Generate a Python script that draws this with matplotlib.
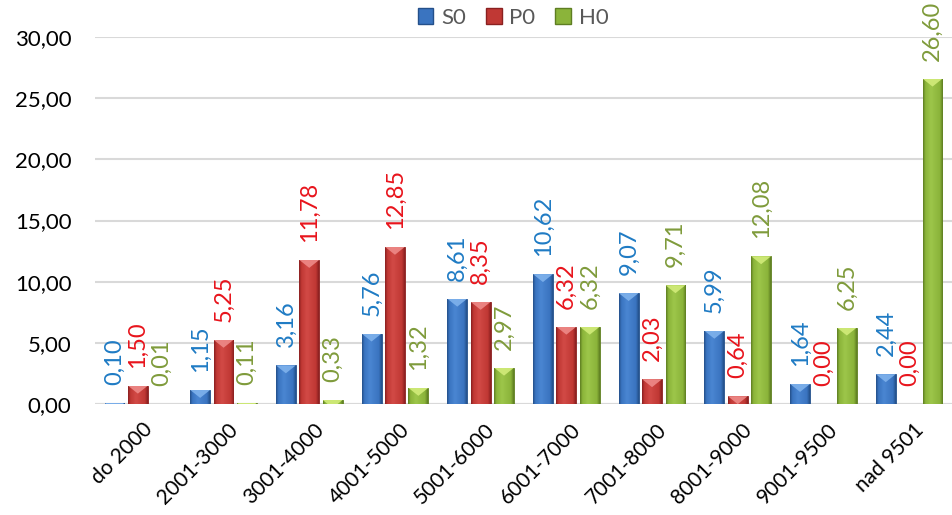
import numpy as np
import matplotlib.pyplot as plt
from matplotlib.colors import LinearSegmentedColormap
from matplotlib.patches import Polygon, Patch

plt.rcParams['font.family'] = ['Lato', 'DejaVu Sans']

categories = ['do 2000', '2001-3000', '3001-4000', '4001-5000', '5001-6000',
              '6001-7000', '7001-8000', '8001-9000', '9001-9500', 'nad 9501']
s0 = [0.10, 1.15, 3.16, 5.76, 8.61, 10.62, 9.07, 5.99, 1.64, 2.44]
p0 = [1.50, 5.25, 11.78, 12.85, 8.35, 6.32, 2.03, 0.64, 0.00, 0.00]
h0 = [0.01, 0.11, 0.33, 1.32, 2.97, 6.32, 9.71, 12.08, 6.25, 26.60]
yticks = [0, 5, 10, 15, 20, 25, 30]

series = [
    ('S0', s0, ['#24508a', '#3a74c0', '#4a86d2', '#3a74c0', '#24508a'], '#7fb2ec', '#1f7bc4'),
    ('P0', p0, ['#8a2020', '#c03834', '#d24a46', '#c03834', '#8a2020'], '#ee8a88', '#e8141c'),
    ('H0', h0, ['#5e7e22', '#8bb43a', '#9dc64a', '#8bb43a', '#5e7e22'], '#d2ec7a', '#7f9b3b'),
]

fig = plt.figure(figsize=(9.52, 5.15), dpi=100)
ax = fig.add_axes([0.0998, 0.2155, 0.9002, 0.7126])

x = np.arange(len(categories))
width = 0.232
step = 0.273
grad = np.linspace(0, 1, 64).reshape(1, -1)

for i, (name, vals, cols, tri_col, lab_col) in enumerate(series):
    cmap = LinearSegmentedColormap.from_list(name, list(zip([0, 0.12, 0.4, 0.85, 1], cols)))
    pos = x + (i - 1) * step
    bars = ax.bar(pos, vals, width, color=cols[1], edgecolor=cols[0], linewidth=0.6, zorder=3)
    for b, v in zip(bars, vals):
        x0, x1 = b.get_x(), b.get_x() + b.get_width()
        if v > 0.05:
            im = ax.imshow(grad, extent=[x0, x1, 0, v], aspect='auto', cmap=cmap, zorder=3.5)
            im.set_clip_path(b)
            tri = Polygon([(x0, v), (x1, v), ((x0 + x1) / 2, v - 0.65)], closed=True,
                          facecolor=tri_col, edgecolor='none', alpha=0.9, zorder=4)
            ax.add_patch(tri)
            tri.set_clip_path(b)
        else:
            b.set_linewidth(0)
        ax.annotate(f"{v:.2f}".replace('.', ','), (b.get_x() + b.get_width() / 2, v),
                    xytext=(0, 13), textcoords='offset points', rotation=90,
                    ha='center', va='bottom', fontsize=17, color=lab_col,
                    annotation_clip=False, zorder=5)

ax.set_xlim(-0.5, len(categories) - 0.5)
ax.set_ylim(0, 30)
ax.set_yticks(yticks)
ax.set_yticklabels([f"{t:.2f}".replace('.', ',') for t in yticks], fontsize=16)
ax.set_xticks(x + 0.05)
ax.set_xticklabels(categories, rotation=45, ha='right', rotation_mode='anchor', fontsize=15)
ax.tick_params(axis='y', length=0, pad=17)
ax.tick_params(axis='x', length=0, pad=11)
ax.grid(axis='y', color='#d9d9d9', linewidth=1.5, zorder=0)
for sp in ax.spines.values():
    sp.set_visible(False)
ax.axhline(0, color='#d9d9d9', linewidth=1.5, zorder=2)

handles = [Patch(facecolor=s[2][1], edgecolor=s[2][0], label=s[0]) for s in series]
leg = fig.legend(handles=handles, loc='center', bbox_to_anchor=(0.539, 0.966), ncol=3,
                 frameon=False, fontsize=16, handlelength=0.7, handleheight=0.7,
                 columnspacing=0.9, handletextpad=0.35)
for t in leg.get_texts():
    t.set_color('#595959')

fig.savefig('out.png', dpi=100)
